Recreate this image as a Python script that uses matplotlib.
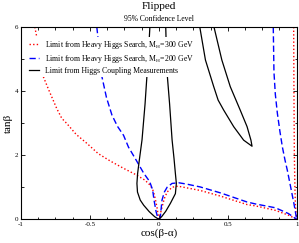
import matplotlib
matplotlib.use("Agg")
import matplotlib.pyplot as plt
from matplotlib.ticker import MultipleLocator

plt.rcParams['font.family'] = ['Liberation Serif', 'DejaVu Serif']
plt.rcParams['mathtext.fontset'] = 'custom'
plt.rcParams['mathtext.rm'] = 'Liberation Serif'
plt.rcParams['mathtext.it'] = 'Liberation Serif:italic'

# --- data ---
# Heavy Higgs search, M_H = 300 GeV (red dotted)
red_left_x = [-0.90, -0.886, -0.865, -0.838, -0.80, -0.777, -0.74, -0.704, -0.668, -0.60,
              -0.522, -0.44, -0.353, -0.26, -0.17, -0.10, -0.06, -0.04, -0.025, -0.013, -0.005, 0.0]
red_left_y = [6.0, 5.7, 5.1, 4.45, 4.05, 3.82, 3.45, 3.15, 2.99, 2.65,
              2.37, 2.05, 1.82, 1.6, 1.4, 1.22, 1.05, 0.88, 0.62, 0.36, 0.14, 0.0]
red_right_x = [0.0, 0.01, 0.023, 0.04, 0.06, 0.096, 0.13, 0.156, 0.30, 0.45, 0.64, 0.70, 0.845, 0.94, 1.0]
red_right_y = [0.0, 0.15, 0.38, 0.65, 0.85, 1.0, 1.03, 1.02, 0.9, 0.72, 0.46, 0.42, 0.28, 0.13, 0.0]
red_edge_x = [0.978, 0.98, 0.983, 0.987, 0.99, 0.993, 1.0]
red_edge_y = [6.0, 4.0, 2.0, 1.0, 0.5, 0.3, 0.0]

# Heavy Higgs search, M_H = 200 GeV (blue dashed)
blue_left_x = [-0.45, -0.44, -0.413, -0.38, -0.34, -0.30, -0.256, -0.22, -0.165, -0.11,
               -0.067, -0.045, -0.035, -0.02, -0.008, 0.0]
blue_left_y = [6.0, 5.6, 4.45, 3.8, 3.25, 2.9, 2.62, 2.25, 1.85, 1.44,
               1.18, 0.92, 0.6, 0.24, 0.05, 0.0]
blue_right_x = [0.0, 0.01, 0.023, 0.04, 0.06, 0.096, 0.144, 0.20, 0.30, 0.45, 0.64, 0.70, 0.845, 0.94, 1.0]
blue_right_y = [0.0, 0.05, 0.6, 0.85, 1.0, 1.12, 1.14, 1.1, 1.01, 0.82, 0.54, 0.48, 0.36, 0.18, 0.0]
blue_edge_x = [0.83, 0.835, 0.845, 0.86, 0.878, 0.896, 0.915, 0.932, 0.956, 0.98, 1.0]
blue_edge_y = [6.0, 4.6, 3.9, 3.3, 2.75, 2.26, 1.85, 1.53, 1.01, 0.49, 0.0]

# Higgs coupling measurements (black solid)
black_c_x = [-0.065, -0.075, -0.086, -0.10, -0.122, -0.14, -0.154, -0.159, -0.155, -0.135, -0.11,
             -0.07, -0.03, 0.0, 0.02, 0.05, 0.084, 0.12, 0.127, 0.12, 0.11, 0.096, 0.078, 0.062, 0.055, 0.05]
black_c_y = [6.0, 5.2, 4.5, 3.6, 2.48, 1.9, 1.43, 1.12, 0.85, 0.6, 0.44,
             0.24, 0.08, 0.0, 0.08, 0.25, 0.5, 0.8, 1.12, 1.43, 1.9, 2.48, 3.6, 4.45, 5.2, 6.0]
black_b_x = [0.297, 0.338, 0.398, 0.43, 0.47, 0.543, 0.615, 0.676, 0.668, 0.64, 0.59, 0.518, 0.457, 0.40]
black_b_y = [6.0, 4.97, 4.14, 3.72, 3.41, 2.89, 2.47, 2.28, 2.47, 2.89, 3.41, 4.14, 4.97, 6.0]

labels = ["Limit from Heavy Higgs Search, M$_\\mathrm{H}$=300 GeV",
          "Limit from Heavy Higgs Search, M$_\\mathrm{H}$=200 GeV",
          "Limit from Higgs Coupling Measurements"]
xticks = [-1, -0.5, 0, 0.5, 1]
xticklabels = ["-1", "-0.5", "0", "0.5", "1"]
yticks = [0, 2, 4, 6]

fig = plt.figure(figsize=(2.99, 2.43), dpi=100)
ax = fig.add_axes([0.0702, 0.0975, 0.9221, 0.7914])

red = dict(color='#ff0000', lw=1.0, ls=(0, (1, 1.6)))
blue = dict(color='#0000ff', lw=1.0, ls=(0, (4.5, 2.2)))
blk = dict(color='black', lw=0.9)

l1, = ax.plot(red_left_x, red_left_y, **red)
ax.plot(red_right_x, red_right_y, **red)
ax.plot(red_edge_x, red_edge_y, **red)
l2, = ax.plot(blue_left_x, blue_left_y, **blue)
ax.plot(blue_right_x, blue_right_y, **blue)
ax.plot(blue_edge_x, blue_edge_y, **blue)
l3, = ax.plot(black_c_x, black_c_y, **blk)
ax.plot(black_b_x, black_b_y, **blk)

ax.set_xlim(-1, 1)
ax.set_ylim(0, 6)
ax.set_xticks(xticks)
ax.set_xticklabels(xticklabels)
ax.set_yticks(yticks)
ax.xaxis.set_minor_locator(MultipleLocator(0.125))
ax.yaxis.set_minor_locator(MultipleLocator(1))
ax.tick_params(which='both', direction='in', top=True, right=True, labelsize=5, width=0.6, pad=2)
ax.tick_params(which='major', length=3)
ax.tick_params(which='minor', length=1.8)
for s in ax.spines.values():
    s.set_linewidth(0.8)

leg = ax.legend([l1, l2, l3], labels, loc='upper left', bbox_to_anchor=(0.02, 0.95),
                fontsize=5.6, frameon=True, fancybox=False, edgecolor='none', facecolor='white',
                framealpha=1, handlelength=1.3, handletextpad=0.8, labelspacing=0.25,
                borderpad=0.3, borderaxespad=0)

ax.set_xlabel("cos(β-α)", fontsize=8, labelpad=1)
ax.set_ylabel("tanβ", fontsize=8, labelpad=1)
fig.text(0.53, 0.975, "Flipped", ha='center', va='center', fontsize=8)
fig.text(0.53, 0.922, "95% Confidence Level", ha='center', va='center', fontsize=5.5)

fig.savefig("out.png", dpi=100)
